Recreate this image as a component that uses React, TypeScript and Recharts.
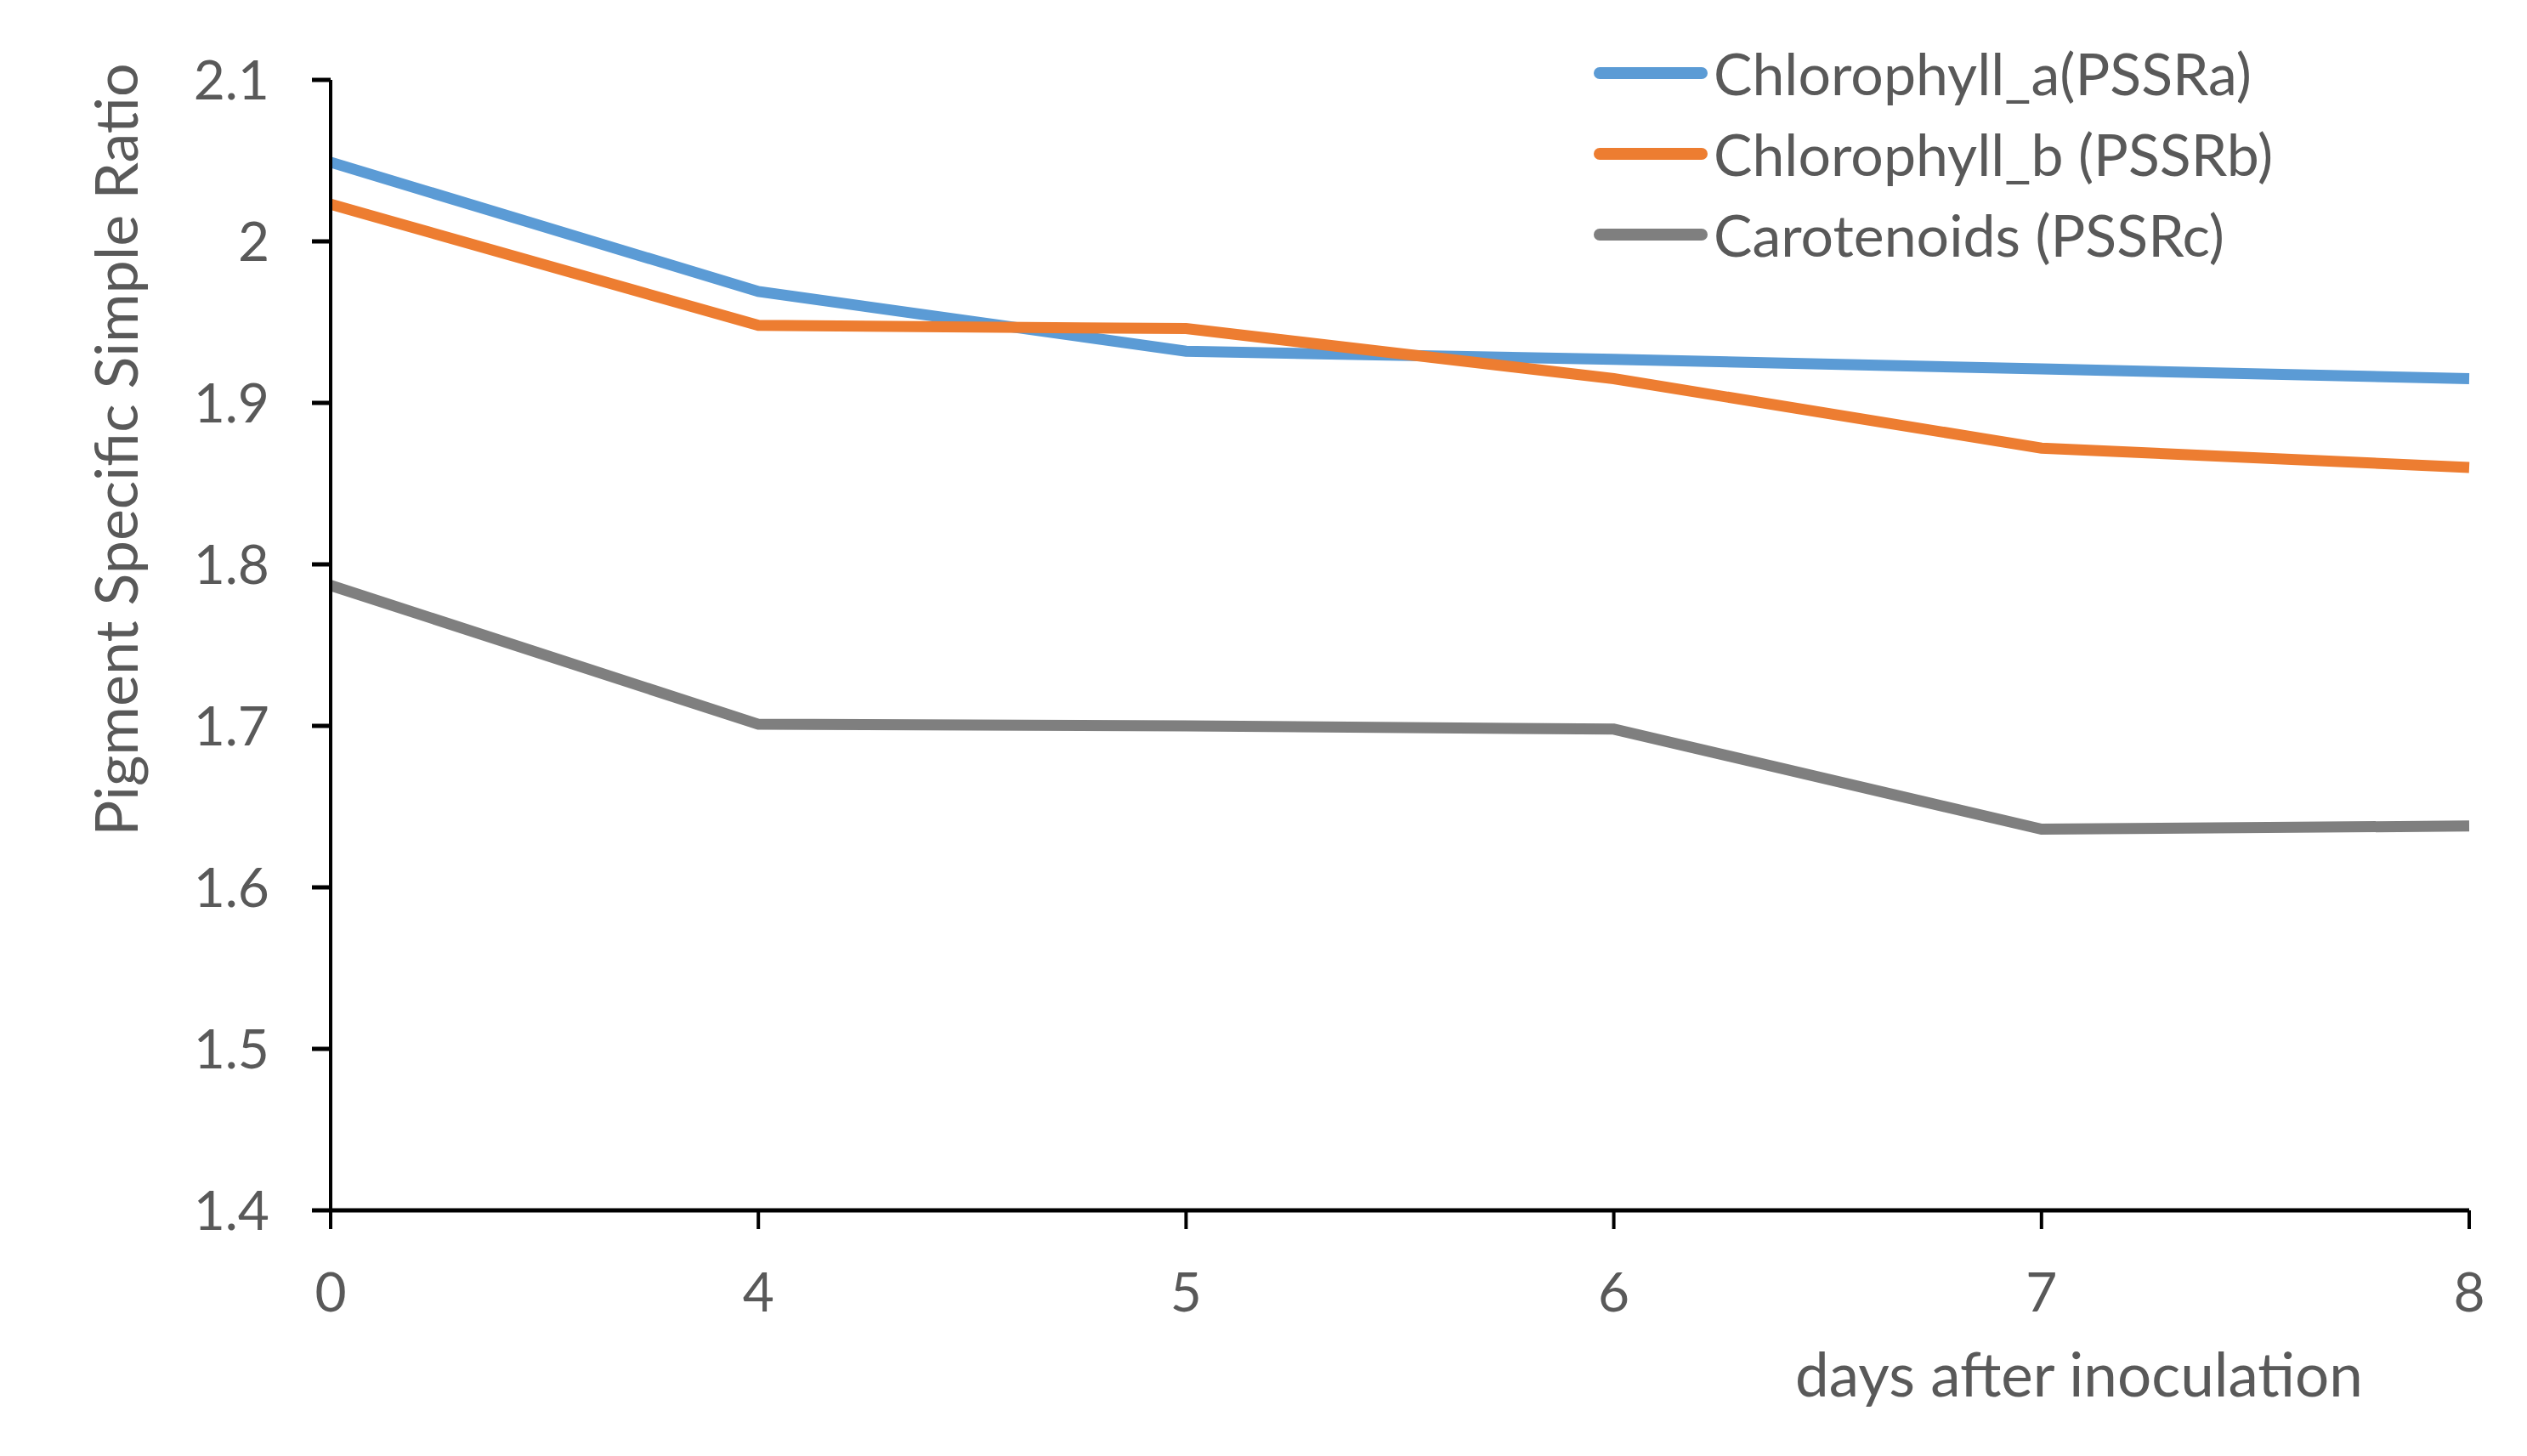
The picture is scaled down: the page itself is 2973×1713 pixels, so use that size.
import React from "react";
import { LineChart, Line, XAxis, YAxis } from "recharts";

const days = ["0", "4", "5", "6", "7", "8"];
const chlA = [2.049, 1.969, 1.932, 1.927, 1.921, 1.915];
const chlB = [2.023, 1.948, 1.946, 1.915, 1.872, 1.86];
const carot = [1.787, 1.701, 1.7, 1.698, 1.636, 1.638];
const yTicks = [1.4, 1.5, 1.6, 1.7, 1.8, 1.9, 2.0, 2.1];

const seriesKeys = ["a", "b", "c"];
const seriesNames = ["Chlorophyll_a(PSSRa)", "Chlorophyll_b (PSSRb)", "Carotenoids (PSSRc)"];
const seriesColors = ["#5B9BD5", "#ED7D31", "#7F7F7F"];

const data = days.map((d, i) => ({ day: d, a: chlA[i], b: chlB[i], c: carot[i] }));

const FONT = "Lato, 'Open Sans', sans-serif";
const TXT = "#595959";

const ChartLegend = () => (
  <div style={{ position: "absolute", left: 1875, top: 38, fontFamily: FONT }}>
    {seriesNames.map((n, i) => (
      <div key={n} style={{ display: "flex", alignItems: "center", height: 95 }}>
        <div style={{ width: 134, height: 14, borderRadius: 7, background: seriesColors[i], marginRight: 7 }} />
        <span style={{ fontSize: 68, color: TXT, lineHeight: "95px", whiteSpace: "nowrap" }}>{n}</span>
      </div>
    ))}
  </div>
);

export default function App() {
  return (
    <div style={{ position: "absolute", left: 0, top: 0, width: 2973, height: 1713, background: "#fff" }}>
      <LineChart
        width={2973}
        height={1713}
        data={data}
        margin={{ top: 94, right: 68, bottom: 139, left: 0 }}
      >
        <XAxis
          dataKey="day"
          height={150}
          stroke="#000"
          strokeWidth={5}
          tickSize={22}
          tickMargin={52}
          tick={{ fill: TXT, fontSize: 64, fontFamily: FONT }}
          tickLine={{ stroke: "#000", strokeWidth: 4 }}
          label={{
            content: () => (
              <text x={2446} y={1643} textAnchor="middle" fill={TXT} fontSize={71} fontFamily={FONT}>
                days after inoculation
              </text>
            ),
          }}
        />
        <YAxis
          width={389}
          domain={[1.4, 2.1]}
          ticks={yTicks}
          interval={0}
          stroke="#000"
          strokeWidth={4}
          tickSize={22}
          tickMargin={50}
          tickFormatter={(v: number) => String(Math.round(v * 10) / 10)}
          tick={{ fill: TXT, fontSize: 64, fontFamily: FONT }}
          tickLine={{ stroke: "#000", strokeWidth: 5 }}
          label={{
            content: () => (
              <text
                x={135}
                y={529}
                transform="rotate(-90 135 529)"
                textAnchor="middle"
                dominantBaseline="central"
                fill={TXT}
                fontSize={70}
                fontFamily={FONT}
              >
                Pigment Specific Simple Ratio
              </text>
            ),
          }}
        />
        {seriesKeys.map((k, i) => (
          <Line
            key={k}
            dataKey={k}
            name={seriesNames[i]}
            stroke={seriesColors[i]}
            strokeWidth={13}
            dot={false}
            isAnimationActive={false}
          />
        ))}
      </LineChart>
      <ChartLegend />
    </div>
  );
}
